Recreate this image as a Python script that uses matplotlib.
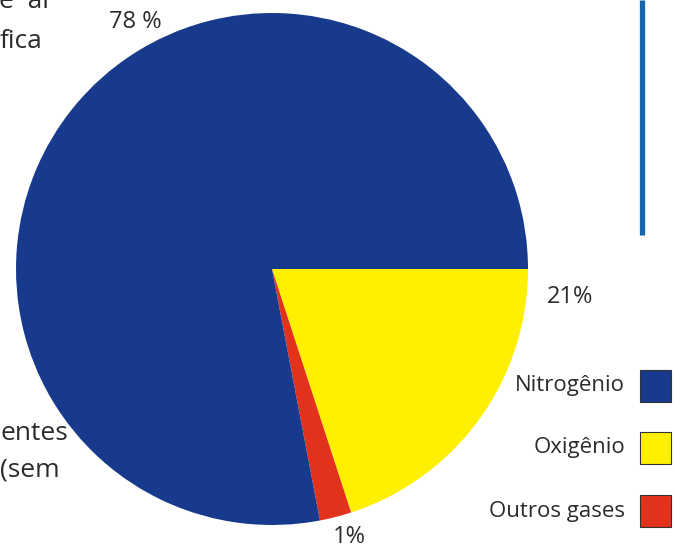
"""
Composição do ar atmosférico (pizza)
"""
import matplotlib.pyplot as plt
from matplotlib.patches import Rectangle

W, H = 675, 551

gases = ['Oxigênio', 'Outros gases', 'Nitrogênio']
shares = [20, 2, 78]
pct_labels = ['21%', '1%', '78 %']
legend_order = ['Nitrogênio', 'Oxigênio', 'Outros gases']

C = {'Nitrogênio': '#173a8c', 'Oxigênio': '#fff000', 'Outros gases': '#e2321c',
     'text': '#2b2b2b', 'rule': '#1464aa'}

plt.rcParams['font.family'] = ['Open Sans', 'DejaVu Sans']

fig = plt.figure(figsize=(W / 100, H / 100), dpi=100)
ax = fig.add_axes([0, 0, 1, 1])

def y(py):
    # image pixel row -> data y
    return H - py

ax.pie(shares, colors=[C[g] for g in gases], startangle=0, counterclock=False,
       center=(272, y(269)), radius=256, wedgeprops={'linewidth': 0},
       frame=True)
ax.set_xlim(0, W); ax.set_ylim(0, H)
ax.set_aspect('equal'); ax.axis('off')

# percentage labels
pos = {'21%': (570, 297), '1%': (349, 537), '78 %': (135, 22)}
for lab in pct_labels:
    px, py = pos[lab]
    ax.text(px, y(py), lab, fontsize=17, color=C['text'], ha='center', va='center')

# legend
rows = [386, 448, 511]
for g, ry in zip(legend_order, rows):
    ax.text(625, y(ry), g, fontsize=16, color=C['text'], ha='right', va='center')
    ax.add_patch(Rectangle((640, y(ry) - 16), 31, 32, facecolor=C[g],
                           edgecolor='#333333', linewidth=0.8))

# vertical rule at right
ax.plot([641.5, 641.5], [y(0), y(235)], color=C['rule'], linewidth=3.8, solid_capstyle='butt')

# fragments of the page text cut by the crop
frags = [(-1, 1, 'e  al'), (0, 42, 'fica'), (0, 433, 'entes'), (0, 470, '(sem')]
for fx, fy, t in frags:
    ax.text(fx, y(fy), t, fontsize=19, color=C['text'], ha='left', va='center')

fig.savefig('out.png', dpi=100, facecolor='white')
